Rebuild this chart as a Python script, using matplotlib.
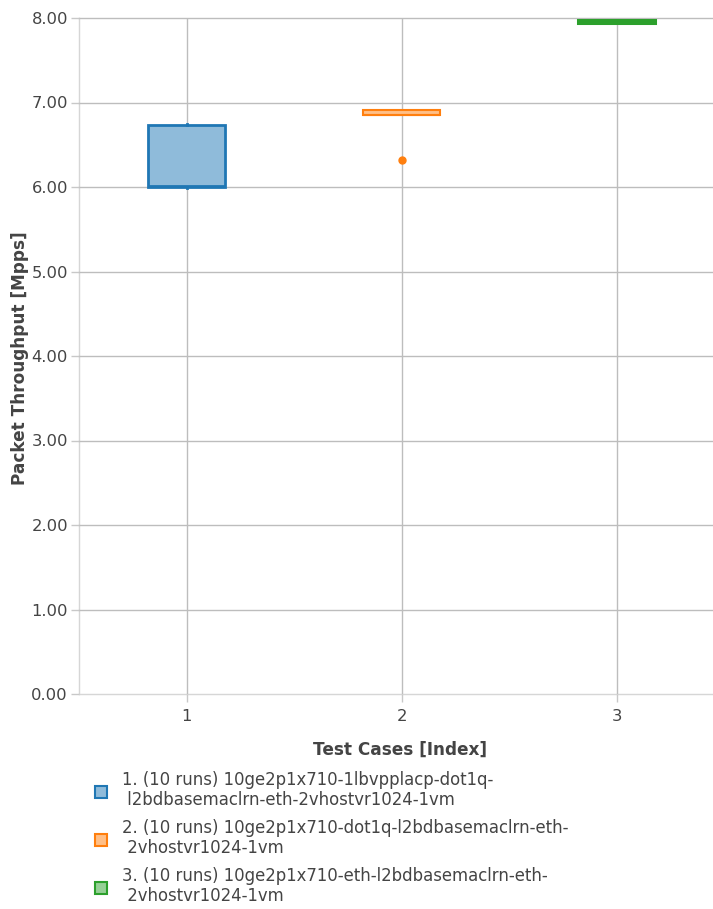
import matplotlib
matplotlib.use("Agg")
import matplotlib.pyplot as plt
import matplotlib.colors as mc
from matplotlib.patches import Rectangle

plt.rcParams['font.family'] = ['DejaVu Sans']

categories = [1, 2, 3]
labels = [
    "1. (10 runs) 10ge2p1x710-1lbvpplacp-dot1q-\n l2bdbasemaclrn-eth-2vhostvr1024-1vm",
    "2. (10 runs) 10ge2p1x710-dot1q-l2bdbasemaclrn-eth-\n 2vhostvr1024-1vm",
    "3. (10 runs) 10ge2p1x710-eth-l2bdbasemaclrn-eth-\n 2vhostvr1024-1vm",
]
colors = ["#1f77b4", "#ff7f0e", "#2ca02c"]
q1 = [6.00, 6.85, 7.94]
med = [6.01, 6.85, 7.96]
q3 = [6.73, 6.915, 7.975]
whislo = [5.99, 6.85, 7.94]
whishi = [6.74, 6.915, 7.975]
fliers = [[], [6.32], []]
yticks = [0, 1, 2, 3, 4, 5, 6, 7, 8]
ytick_labels = ["0.00", "1.00", "2.00", "3.00", "4.00", "5.00", "6.00", "7.00", "8.00"]

W, H = 713, 909
fig = plt.figure(figsize=(W / 100, H / 100), dpi=100)
left, right, top, bottom = 79, 724, 18, 694
ax = fig.add_axes([left / W, (H - bottom) / H, (right - left) / W, (bottom - top) / H])
ax.set_xlim(0.5, 3.5)
ax.set_ylim(0, 8)

for s in ax.spines.values():
    s.set_visible(False)
ax.axvline(0.5, color="#d6d6d6", lw=1, zorder=0, clip_on=False)

for y in yticks:
    ax.axhline(y, color="#d6d6d6" if y == 0 else "#bdbdbd", lw=1, zorder=0, clip_on=False)
for x in categories:
    ax.axvline(x, color="#bdbdbd", lw=1, zorder=0)


def lighten(c, f=0.5):
    rgb = mc.to_rgb(c)
    return tuple(1 - f * (1 - v) for v in rgb)


line_widths = [2, 1.5, 2.2]
for i in range(3):
    st = dict(med=med[i], q1=q1[i], q3=q3[i], whislo=whislo[i], whishi=whishi[i], fliers=fliers[i])
    c = colors[i]
    lw = line_widths[i]
    ax.bxp([st], positions=[categories[i]], widths=0.354, patch_artist=True, showcaps=False,
           boxprops=dict(facecolor=lighten(c), edgecolor=c, linewidth=lw),
           medianprops=dict(color=c, linewidth=lw),
           whiskerprops=dict(color=c, linewidth=lw),
           flierprops=dict(marker='o', markerfacecolor=c, markeredgecolor=c, markersize=5),
           manage_ticks=False, zorder=3)

ax.set_yticks(yticks)
ax.set_yticklabels(ytick_labels)
ax.set_xticks(categories)
ax.set_xticklabels([str(c) for c in categories])
ax.tick_params(axis='both', colors="#c8c8c8", labelcolor="#444444", labelsize=11.8, length=6, width=1)
ax.tick_params(axis='y', pad=2)
ax.tick_params(axis='x', pad=5)

fig.text(400 / W, 1 - 750 / H, "Test Cases [Index]", ha='center', va='center', fontsize=12.2,
         fontweight='bold', color="#444444")
fig.text(20 / W, 1 - 358 / H, "Packet Throughput [Mpps]", ha='center', va='center', fontsize=12.2,
         fontweight='bold', color="#444444", rotation=90)

# legend
ys = [781, 829, 877]
for i in range(3):
    sq = Rectangle((95 / W, 1 - (ys[i] + 17) / H), 12 / W, 12 / H, transform=fig.transFigure,
                   facecolor=lighten(colors[i]), edgecolor=colors[i], lw=1.5)
    fig.patches.append(sq)
    fig.text(122 / W, 1 - (ys[i] - 10) / H, labels[i], ha='left', va='top', fontsize=11.9,
             color="#444444", linespacing=1.13)

fig.savefig("out.png", dpi=100)
